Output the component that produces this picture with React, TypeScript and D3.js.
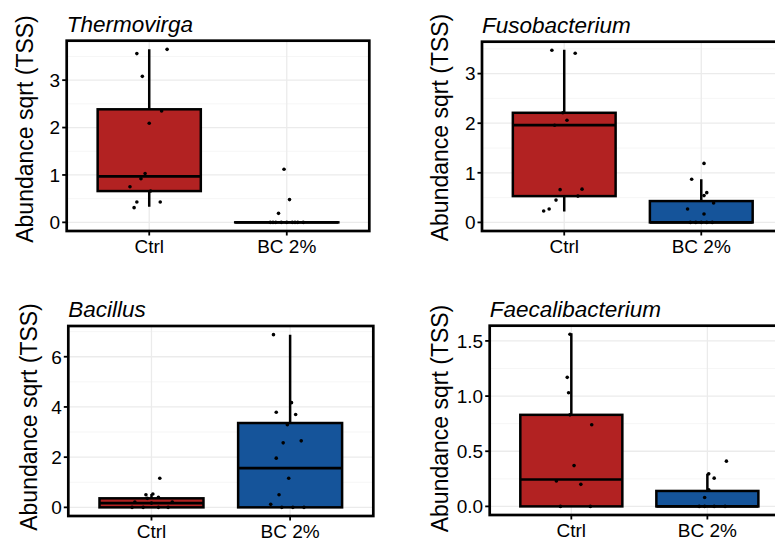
import React from "react";
import * as d3 from "d3";

// ---------- data ----------
const groups = ["Ctrl", "BC 2%"];
const taxa = ["Thermovirga", "Fusobacterium", "Bacillus", "Faecalibacterium"];
const yTicks = [[0, 1, 2, 3], [0, 1, 2, 3], [0, 2, 4, 6], [0, 0.5, 1, 1.5]];
const yTickDecimals = [0, 0, 0, 1];

// sample values (sqrt TSS abundance)
const thermovirgaCtrl = [3.65, 3.56, 3.08, 2.35, 2.09, 1.03, 0.92, 0.75, 0.66, 0.43, 0.43, 0.31];
const thermovirgaBC = [1.12, 0.48, 0.19, 0, 0, 0, 0, 0, 0, 0, 0, 0];
const fusobacteriumCtrl = [3.47, 3.41, 2.21, 2.06, 1.96, 0.67, 0.66, 0.53, 0.45, 0.27, 0.23];
const fusobacteriumBC = [1.19, 0.87, 0.6, 0.54, 0.39, 0.27, 0.17, 0, 0, 0, 0, 0];
const bacillusCtrl = [1.16, 0.53, 0.5, 0.4, 0.36, 0.21, 0.21, 0.17, 0, 0, 0, 0];
const bacillusBC = [6.88, 4.17, 3.79, 3.7, 3.29, 2.65, 2.57, 1.96, 1.16, 0.5, 0.12, 0, 0, 0];
const faecalibacteriumCtrl = [1.56, 1.17, 1.03, 0.83, 0.74, 0.37, 0.23, 0.2, 0, 0];
const faecalibacteriumBC = [0.41, 0.295, 0.256, 0.15, 0.08, 0, 0, 0, 0];

// box statistics [lower whisker, Q1, median, Q3, upper whisker]
const thermovirgaBox = [[0.33, 0.66, 0.97, 2.385, 3.65], [0, 0, 0, 0, 0]];
const fusobacteriumBox = [[0.22, 0.53, 1.96, 2.21, 3.48], [0, 0, 0, 0.43, 0.87]];
const bacillusBox = [[0, 0, 0.17, 0.36, 0.53], [0, 0, 1.56, 3.36, 6.88]];
const faecalibacteriumBox = [[0, 0, 0.244, 0.83, 1.57], [0, 0, 0, 0.14, 0.295]];

// horizontal jitter of each point (fraction of category spacing)
const thermovirgaJitter = [
  [0.13, -0.09, -0.05, 0.09, 0, -0.03, -0.06, -0.14, 0.01, -0.09, 0.08, -0.11],
  [-0.02, 0.02, -0.06, -0.12, -0.08, -0.04, 0, 0.04, 0.08, 0.12, -0.1, 0.06],
];
const fusobacteriumJitter = [
  [-0.09, 0.08, -0.01, 0.02, -0.07, 0.13, -0.03, 0.1, -0.06, -0.11, -0.15],
  [0.02, -0.07, 0.04, 0.02, 0.09, -0.1, 0.02, -0.08, -0.04, 0, 0.04, 0.08],
];
const bacillusJitter = [
  [0.06, 0.01, -0.04, 0.05, -0.03, -0.12, 0.15, 0, -0.06, 0.05, 0.12, -0.14],
  [-0.12, 0.01, -0.1, 0.04, -0.02, 0.08, -0.05, -0.1, -0.01, -0.08, -0.14, -0.06, 0.02, 0.1],
];
const faecalibacteriumJitter = [
  [-0.01, -0.03, -0.02, -0.01, 0.15, 0.02, -0.11, 0.07, -0.08, 0.14],
  [0.14, 0.01, 0.05, 0.01, -0.02, -0.06, -0.02, 0.13, 0.05],
];

const values = [
  [thermovirgaCtrl, thermovirgaBC],
  [fusobacteriumCtrl, fusobacteriumBC],
  [bacillusCtrl, bacillusBC],
  [faecalibacteriumCtrl, faecalibacteriumBC],
];
const boxes = [thermovirgaBox, fusobacteriumBox, bacillusBox, faecalibacteriumBox];
const jitters = [thermovirgaJitter, fusobacteriumJitter, bacillusJitter, faecalibacteriumJitter];

// ---------- layout ----------
const W = 775;
const H = 544;
const PANELS = [
  { left: 66.7, right: 369.3, top: 40.7, bottom: 231, yTitleX: 33, yTitleY: 129 },
  { left: 482, right: 783.5, top: 41.7, bottom: 231, yTitleX: 448, yTitleY: 127.5 },
  { left: 68.3, right: 373.3, top: 326, bottom: 516, yTitleX: 37, yTitleY: 417 },
  { left: 489.7, right: 789, top: 325.7, bottom: 515, yTitleX: 448, yTitleY: 418.5 },
];
const FILLS = ["#B22222", "#15549A"];
const FONT = "'Liberation Sans', Arial, sans-serif";

function Panel({ idx }: { idx: number }) {
  const p = PANELS[idx];
  const all = values[idx].flat();
  const maxV = d3.max(all) as number;
  const minV = Math.min(0, d3.min(all) as number);
  const pad = (maxV - minV) * 0.05;
  const y = d3.scaleLinear().domain([minV - pad, maxV + pad]).range([p.bottom, p.top]);
  const x = d3.scalePoint<string>().domain(groups).range([p.left, p.right]).padding(0.6);
  const step = x.step();
  const boxW = step * 0.75;
  const ticks = yTicks[idx];
  const fmt = d3.format(`.${yTickDecimals[idx]}f`);
  const minor = ticks.slice(0, -1).map((t, i) => (t + ticks[i + 1]) / 2);
  const lastMinor = ticks[ticks.length - 1] + (ticks[1] - ticks[0]) / 2;
  if (y(lastMinor) > p.top) minor.push(lastMinor);
  const clipId = `clip${idx}`;

  return (
    <g>
      <defs>
        <clipPath id={clipId}>
          <rect x={p.left} y={p.top} width={p.right - p.left} height={p.bottom - p.top} />
        </clipPath>
      </defs>
      <rect x={p.left} y={p.top} width={p.right - p.left} height={p.bottom - p.top} fill="#fff" />
      <g clipPath={`url(#${clipId})`}>
        {minor.map((t) => (
          <line key={"mn" + t} x1={p.left} x2={p.right} y1={y(t)} y2={y(t)} stroke="#f4f4f4" strokeWidth={0.8} />
        ))}
        {ticks.map((t) => (
          <line key={"mj" + t} x1={p.left} x2={p.right} y1={y(t)} y2={y(t)} stroke="#ebebeb" strokeWidth={1.3} />
        ))}
        {groups.map((g) => (
          <line key={"vg" + g} x1={x(g)} x2={x(g)} y1={p.top} y2={p.bottom} stroke="#ebebeb" strokeWidth={1.3} />
        ))}
        {groups.map((g, gi) => {
          const [lo, q1, med, q3, hi] = boxes[idx][gi];
          const cx = x(g) as number;
          return (
            <g key={"box" + g}>
              <line x1={cx} x2={cx} y1={y(q3)} y2={y(hi)} stroke="#000" strokeWidth={2.5} />
              <line x1={cx} x2={cx} y1={y(q1)} y2={y(lo)} stroke="#000" strokeWidth={2.5} />
              <rect
                x={cx - boxW / 2}
                y={y(q3)}
                width={boxW}
                height={Math.max(0.01, y(q1) - y(q3))}
                fill={FILLS[gi]}
                stroke="#000"
                strokeWidth={2.5}
              />
              <line x1={cx - boxW / 2} x2={cx + boxW / 2} y1={y(med)} y2={y(med)} stroke="#000" strokeWidth={2.7} />
            </g>
          );
        })}
        {groups.map((g, gi) =>
          values[idx][gi].map((v, i) => (
            <circle
              key={"pt" + g + i}
              cx={(x(g) as number) + jitters[idx][gi][i] * step}
              cy={y(v)}
              r={1.8}
              fill="#000"
            />
          ))
        )}
      </g>
      <rect
        x={p.left}
        y={p.top}
        width={p.right - p.left}
        height={p.bottom - p.top}
        fill="none"
        stroke="#000"
        strokeWidth={2.7}
      />
      {ticks.map((t) => (
        <g key={"yt" + t}>
          <line x1={p.left - 4.5} x2={p.left} y1={y(t)} y2={y(t)} stroke="#000" strokeWidth={1.8} />
          <text
            x={p.left - 6.5}
            y={y(t)}
            dy="0.36em"
            textAnchor="end"
            fontSize={19}
            fontFamily={FONT}
            fill="#000"
          >
            {fmt(t)}
          </text>
        </g>
      ))}
      {groups.map((g) => (
        <g key={"xt" + g}>
          <line x1={x(g)} x2={x(g)} y1={p.bottom} y2={p.bottom + 4.5} stroke="#000" strokeWidth={1.8} />
          <text
            x={x(g)}
            y={p.bottom + 22}
            textAnchor="middle"
            fontSize={19}
            fontFamily={FONT}
            fill="#000"
          >
            {g}
          </text>
        </g>
      ))}
      <text
        x={p.left}
        y={p.top - 9}
        fontSize={22.5}
        fontStyle="italic"
        fontFamily={FONT}
        fill="#000"
      >
        {taxa[idx]}
      </text>
      <text
        transform={`translate(${p.yTitleX},${p.yTitleY}) rotate(-90)`}
        textAnchor="middle"
        fontSize={23}
        fontFamily={FONT}
        fill="#000"
      >
        Abundance sqrt (TSS)
      </text>
    </g>
  );
}

export default function App() {
  return (
    <svg
      width={W}
      height={H}
      viewBox={`0 0 ${W} ${H}`}
      style={{ position: "absolute", left: 0, top: 0, background: "#fff", overflow: "hidden" }}
    >
      <rect width={W} height={H} fill="#fff" />
      {taxa.map((t, i) => (
        <Panel key={t} idx={i} />
      ))}
    </svg>
  );
}
